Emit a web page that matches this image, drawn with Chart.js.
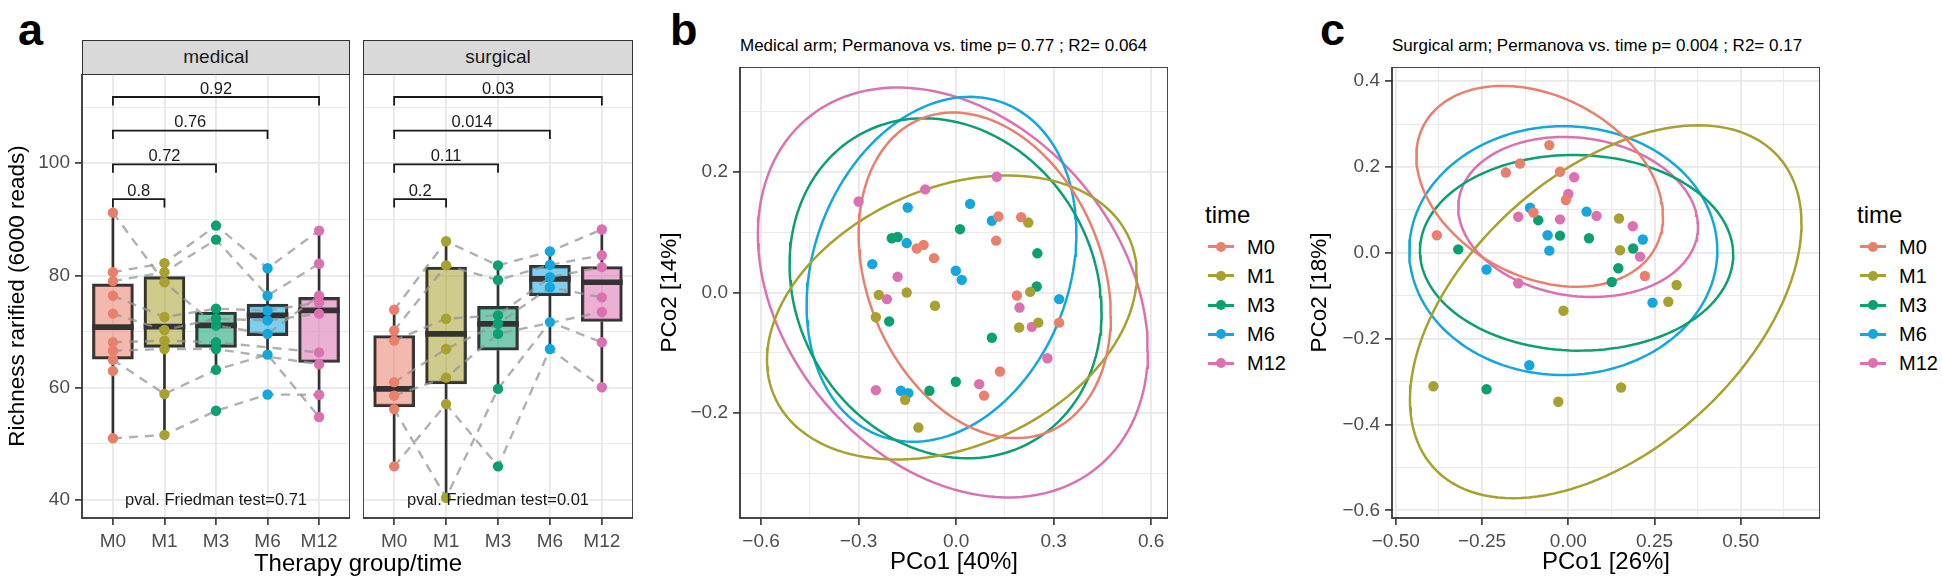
<!DOCTYPE html>
<html>
<head>
<meta charset="utf-8">
<script src="https://cdn.jsdelivr.net/npm/chart.js@4.4.1/dist/chart.umd.min.js"></script>
<style>
  body { margin: 0; background: #fff; font-family: "Liberation Sans", Arial, sans-serif; }
  #page { position: relative; width: 1942px; height: 581px; overflow: hidden; background: #fff; }
  canvas { position: absolute; }
  .lbl { position: absolute; top: 7px; font-weight: bold; font-size: 45px; line-height: 45px; color: #000; }
  .strip { position: absolute; top: 40px; height: 35px; box-sizing: border-box; background: #D9D9D9;
           border: 1.8px solid #333; font-size: 19px; line-height: 32px; text-align: center; color: #1a1a1a; }
  .ptitle { position: absolute; top: 37px; font-size: 17px; line-height: 18px; white-space: nowrap; color: #000; }
  .axt { position: absolute; font-size: 24px; line-height: 24px; white-space: nowrap; transform: translate(-50%, -50%); color: #000; }
  .legtitle { position: absolute; font-size: 24px; line-height: 24px; color: #000; }
  .legrow { position: absolute; height: 20px; }
  .legrow .ln { position: absolute; left: 3px; top: 8.5px; width: 26px; height: 3px; }
  .legrow .dot { position: absolute; left: 11px; top: 5px; width: 10px; height: 10px; border-radius: 50%; }
  .legrow span { position: absolute; left: 42px; top: 0; font-size: 20px; line-height: 20px; color: #000; }
</style>
</head>
<body>
<div id="page">
  <div class="lbl" style="left:18px">a</div>
  <div class="lbl" style="left:670px">b</div>
  <div class="lbl" style="left:1320px">c</div>

  <div class="strip" style="left:82px; width:268px">medical</div>
  <div class="strip" style="left:363px; width:270px">surgical</div>
  <canvas id="medical" width="350" height="476" style="left:0; top:74px"></canvas>
  <canvas id="surgical" width="270" height="476" style="left:363px; top:74px"></canvas>
  <div class="axt" style="left:358px; top:563px">Therapy group/time</div>

  <div class="ptitle" style="left:740px">Medical arm; Permanova vs. time p= 0.77 ; R2= 0.064</div>
  <canvas id="pcoaMed" width="516" height="514" style="left:652px; top:67px"></canvas>

  <div class="ptitle" style="left:1392px">Surgical arm; Permanova vs. time p= 0.004 ; R2= 0.17</div>
  <canvas id="pcoaSur" width="518" height="514" style="left:1302px; top:67px"></canvas>
</div>

<script>
Chart.defaults.font.family = '"Liberation Sans", Arial, sans-serif';
Chart.defaults.color = '#4D4D4D';

const times = ['M0', 'M1', 'M3', 'M6', 'M12'];
const timeColors = ['#E9806E', '#A7A130', '#0C9F72', '#14A7DE', '#DB71B1'];

// ---- panel a: richness, one row per patient (M0, M1, M3, M6, M12) ----
const medSubjects = [
  [91.2, 78.8, 71.1, 69.6, 76.4],
  [51.0, 51.6, 55.9, 58.8, 58.75],
  [65.0, 58.9, 63.2, 65.9, 54.8],
  [80.6, 82.2, 88.9, 81.3, 88.0],
  [79.0, 80.6, 86.4, 76.4, 82.1],
  [76.4, 72.6, 74.1, 73.75, 75.2],
  [73.2, 70.3, 72.3, 72.0, 73.2],
  [68.1, 68.4, 68.1, null, 66.3],
  [66.6, 66.9, 66.9, null, 64.2],
  [63.0, null, null, null, null]
];
const surSubjects = [
  [73.9, 86.1, 81.8, 84.3, 88.2],
  [70.2, 81.8, 79.2, 81.9, 83.6],
  [68.4, 72.3, 72.9, 79.7, 81.5],
  [61.0, 66.9, 71.4, 77.9, 76.1],
  [58.6, 61.8, 69.6, null, 73.5],
  [56.2, 40.4, 59.8, 71.7, 68.1],
  [46.0, 57.1, 46.0, 66.9, 60.1]
];

// box statistics as drawn
const medQ1 = [65.1, 67.2, 67.2, 69.3, 64.5];
const medMed = [70.8, 70.9, 71.1, 72.9, 73.8];
const medQ3 = [78.5, 79.8, 73.5, 74.9, 76.1];
const medLo = [51.0, 51.6, 63.2, 65.7, 54.8];
const medHi = [91.2, 82.2, 74.1, 81.3, 88.0];

const surQ1 = [56.6, 60.7, 66.7, 76.4, 71.8];
const surMed = [59.8, 69.6, 71.4, 79.4, 78.8];
const surQ3 = [69.3, 81.5, 74.5, 81.8, 81.6];
const surLo = [46.0, 40.4, 59.8, 66.9, 60.1];
const surHi = [73.9, 86.1, 81.8, 84.3, 88.2];

// pairwise comparisons vs M0
const bracketFrom = [1, 1, 1, 1];
const bracketTo = [2, 3, 4, 5];
const bracketY = [93.6, 99.8, 105.8, 111.8];
const medPvals = ['0.8', '0.72', '0.76', '0.92'];
const surPvals = ['0.2', '0.11', '0.014', '0.03'];

const richTicks = [40, 50, 60, 70, 80, 90, 100, 110];
const richLabels = ['40', '', '60', '', '80', '', '100', ''];
const catTicks = [1, 2, 3, 4, 5];

// ---- panels b / c: PCoA coordinates per time point ----
const bM0 = [[0.13, 0.126], [0.2, 0.125], [0.123, 0.086], [-0.121, 0.073], [-0.1, 0.079], [-0.068, 0.057], [0.187, -0.005], [0.317, -0.05], [0.135, -0.131], [0.086, -0.171]];
const bM1 = [[0.222, 0.116], [0.228, 0.001], [-0.152, 0.0], [-0.238, -0.004], [-0.065, -0.022], [-0.247, -0.041], [0.194, -0.058], [0.253, -0.05], [-0.157, -0.178], [-0.116, -0.224]];
const bM3 = [[0.012, 0.105], [-0.198, 0.09], [-0.18, 0.092], [0.25, 0.065], [0.248, 0.01], [-0.206, -0.048], [0.11, -0.075], [-0.001, -0.148], [-0.082, -0.163]];
const bM6 = [[-0.149, 0.141], [0.043, 0.147], [0.11, 0.119], [-0.152, 0.082], [-0.258, 0.047], [-0.001, 0.036], [0.0175, 0.021], [0.317, -0.011], [-0.17, -0.163], [-0.147, -0.167]];
const bM12 = [[-0.30, 0.151], [-0.095, 0.171], [0.125, 0.192], [-0.18, 0.026], [-0.213, -0.011], [0.195, -0.025], [0.233, -0.057], [0.281, -0.109], [0.071, -0.152], [-0.247, -0.162]];

const cM0 = [[-0.381, 0.041], [-0.181, 0.187], [-0.140, 0.208], [-0.055, 0.251], [-0.101, 0.094], [-0.024, 0.189], [-0.007, 0.123], [0.222, -0.054]];
const cM1 = [[0.147, 0.080], [0.150, 0.006], [0.314, -0.075], [0.290, -0.114], [-0.014, -0.135], [-0.391, -0.311], [-0.029, -0.347], [0.153, -0.314]];
const cM3 = [[-0.319, 0.008], [-0.087, 0.076], [-0.024, 0.040], [0.060, 0.034], [0.188, 0.010], [0.145, -0.036], [0.126, -0.068], [-0.237, -0.318]];
const cM6 = [[-0.237, -0.039], [-0.111, 0.105], [-0.060, 0.041], [-0.055, 0.005], [0.053, 0.096], [0.216, 0.031], [0.244, -0.116], [-0.113, -0.262]];
const cM12 = [[-0.145, 0.084], [-0.024, 0.078], [0.017, 0.176], [0.0, 0.137], [0.082, 0.086], [0.187, 0.062], [0.208, -0.009], [-0.145, -0.071]];

// confidence ellipses: centre, half width, half height, correlation
const bEllCx = [0.088, -0.013, -0.0325, -0.045, -0.01];
const bEllCy = [0.0285, -0.0415, 0.007, 0.0385, 0.0];
const bEllA = [0.388, 0.569, 0.48, 0.415, 0.60];
const bEllB = [0.27, 0.2355, 0.282, 0.286, 0.34];
const bEllR = [-0.25, 0.3, -0.14, 0.21, -0.283];

const cEllCx = [-0.083, 0.1085, 0.024, -0.0145, 0.0285];
const cEllCy = [0.155, -0.1375, 0.0, 0.005, 0.0835];
const cEllA = [0.3575, 0.5675, 0.454, 0.4465, 0.3475];
const cEllB = [0.234, 0.4345, 0.228, 0.29, 0.1865];
const cEllR = [-0.3, 0.473, -0.02, 0.0, -0.12];

const bXTicks = [-0.6, -0.45, -0.3, -0.15, 0, 0.15, 0.3, 0.45, 0.6];
const bXLabels = ['\u22120.6', '', '\u22120.3', '', '0.0', '', '0.3', '', '0.6'];
const bYTicks = [-0.3, -0.2, -0.1, 0, 0.1, 0.2, 0.3];
const bYLabels = ['', '\u22120.2', '', '0.0', '', '0.2', ''];
const cXTicks = [-0.5, -0.375, -0.25, -0.125, 0, 0.125, 0.25, 0.375, 0.5, 0.625];
const cXLabels = ['\u22120.50', '', '\u22120.25', '', '0.00', '', '0.25', '', '0.50', ''];
const cYTicks = [-0.6, -0.5, -0.4, -0.3, -0.2, -0.1, 0, 0.1, 0.2, 0.3, 0.4];
const cYLabels = ['\u22120.6', '', '\u22120.4', '', '\u22120.2', '', '0.0', '', '0.2', '', '0.4'];

// grey20 frame round the plotting panel
const panelBorder = {
  id: 'panelBorder',
  afterDatasetsDraw(chart) {
    const { ctx, chartArea: a } = chart;
    ctx.save();
    ctx.strokeStyle = '#333';
    ctx.lineWidth = 1.8;
    ctx.strokeRect(a.left, a.top, a.right - a.left, a.bottom - a.top);
    ctx.restore();
  }
};

// p-values above the brackets and the Friedman test line
const facetText = {
  id: 'facetText',
  afterDatasetsDraw(chart, args, opts) {
    const { ctx, scales: { x, y } } = chart;
    ctx.save();
    ctx.font = '16.5px "Liberation Sans", Arial, sans-serif';
    ctx.fillStyle = '#1a1a1a';
    ctx.textAlign = 'center';
    ctx.textBaseline = 'alphabetic';
    opts.labels.forEach((lab, k) => {
      const xm = (bracketFrom[k] + bracketTo[k]) / 2;
      ctx.fillText(lab, x.getPixelForValue(xm), y.getPixelForValue(bracketY[k]) - 3.5);
    });
    ctx.textBaseline = 'middle';
    ctx.fillText(opts.pval, x.getPixelForValue(3), y.getPixelForValue(40));
    ctx.restore();
  }
};

function tickScale(ticks, labels, min, max, size, extra) {
  return Object.assign({
    type: 'linear', min: min, max: max, offset: false,
    afterBuildTicks: s => { s.ticks = ticks.map(v => ({ value: v })); },
    // fixed axis size, and no extra room for half labels at the ends
    afterFit: s => {
      if (s.isHorizontal()) s.height = size; else s.width = size;
      s.paddingTop = 0; s.paddingBottom = 0; s.paddingLeft = 0; s.paddingRight = 0;
    },
    ticks: { callback: (v, i) => labels[i], color: '#4D4D4D', font: { size: 19 }, padding: 5, autoSkip: false, maxRotation: 0 },
    grid: {
      offset: false,
      color: '#E8E8E8',
      lineWidth: c => labels[c.index] ? 1.8 : 0.9,
      tickLength: 7,
      tickWidth: 1.6,
      tickColor: c => labels[c.index] ? '#333' : 'rgba(0,0,0,0)'
    },
    border: { display: false }
  }, extra || {});
}

function facetChart(id, q1, med, q3, lo, hi, subjects, pvals, pval, showY) {
  const datasets = [];
  datasets.push({
    type: 'bar', order: 6, grouped: false, barThickness: 41,
    data: times.map((t, i) => ({ x: i + 1, y: [q1[i], q3[i]] })),
    backgroundColor: timeColors.map(c => c + '8C'),
    borderColor: '#333', borderWidth: 2.7, borderSkipped: false
  });
  datasets.push({
    type: 'bar', order: 5, grouped: false, barThickness: 41,
    data: times.map((t, i) => ({ x: i + 1, y: [med[i] - 0.45, med[i] + 0.45] })),
    backgroundColor: '#333', borderWidth: 0
  });
  const whisk = [];
  times.forEach((t, i) => {
    whisk.push({ x: i + 1, y: hi[i] }, { x: i + 1, y: q3[i] }, { x: i + 1, y: null },
               { x: i + 1, y: q1[i] }, { x: i + 1, y: lo[i] }, { x: i + 1, y: null });
  });
  datasets.push({ order: 4, data: whisk, showLine: true, spanGaps: false, borderColor: '#333', borderWidth: 2.7, pointRadius: 0 });
  subjects.forEach(s => datasets.push({
    order: 3, showLine: true, spanGaps: true, pointRadius: 0,
    borderColor: 'rgba(150,150,150,0.75)', borderWidth: 2.4, borderDash: [9, 7],
    data: s.map((v, i) => ({ x: i + 1, y: v }))
  }));
  const br = [];
  bracketY.forEach((yv, k) => {
    br.push({ x: bracketFrom[k], y: yv - 1.5 }, { x: bracketFrom[k], y: yv }, { x: bracketTo[k], y: yv },
            { x: bracketTo[k], y: yv - 1.5 }, { x: bracketTo[k], y: null });
  });
  datasets.push({ order: 2, data: br, showLine: true, spanGaps: false, borderColor: '#1a1a1a', borderWidth: 1.8, pointRadius: 0 });
  times.forEach((t, i) => datasets.push({
    order: 1, pointRadius: 5.2, pointBackgroundColor: timeColors[i], pointBorderWidth: 0,
    data: subjects.filter(s => s[i] != null).map(s => ({ x: i + 1, y: s[i] }))
  }));

  const yScale = showY
    ? tickScale(richTicks, richLabels, 36.8, 115.9, 82, {
        title: { display: true, text: 'Richness rarified (6000 reads)', color: '#000', font: { size: 22.5 }, padding: { top: 4, bottom: 0 } }
      })
    : tickScale(richTicks, richLabels, 36.8, 115.9, 0);
  if (!showY) {
    yScale.ticks.display = false;
    yScale.grid.drawTicks = false;
  }

  return new Chart(document.getElementById(id), {
    type: 'scatter',
    data: { datasets: datasets },
    options: {
      responsive: false, animation: false, devicePixelRatio: 1,
      layout: { padding: 0, autoPadding: false },
      plugins: { legend: { display: false }, tooltip: { enabled: false }, facetText: { labels: pvals, pval: pval } },
      scales: {
        x: tickScale(catTicks, times, 0.4, 5.6, 32, { grid: {
          offset: false, color: '#E8E8E8', lineWidth: 1.8, tickLength: 7, tickWidth: 1.6, tickColor: '#333' } }),
        y: yScale
      }
    },
    plugins: [panelBorder, facetText]
  });
}

function ellipsePoints(cx, cy, a, b, r) {
  const d = Math.acos(r), pts = [];
  for (let k = 0; k <= 140; k++) {
    const t = k / 140 * 2 * Math.PI;
    pts.push({ x: cx + a * Math.cos(t), y: cy + b * Math.cos(t - d) });
  }
  return pts;
}

function pcoaChart(id, yWidth, groups, ell, xt, xl, xr, yt, yl, yr, xTitle, yTitle) {
  const datasets = [];
  times.forEach((t, i) => datasets.push({
    order: 2, showLine: true, pointRadius: 0, borderColor: timeColors[i], borderWidth: 2.5,
    data: ellipsePoints(ell.cx[i], ell.cy[i], ell.a[i], ell.b[i], ell.r[i])
  }));
  times.forEach((t, i) => datasets.push({
    order: 1, pointRadius: 5.2, pointBackgroundColor: timeColors[i], pointBorderWidth: 0,
    data: groups[i].map(p => ({ x: p[0], y: p[1] }))
  }));
  return new Chart(document.getElementById(id), {
    type: 'scatter',
    data: { datasets: datasets },
    options: {
      responsive: false, animation: false, devicePixelRatio: 1,
      layout: { padding: 0, autoPadding: false },
      plugins: { legend: { display: false }, tooltip: { enabled: false } },
      scales: {
        x: tickScale(xt, xl, xr[0], xr[1], 63, {
          title: { display: true, text: xTitle, color: '#000', font: { size: 24 }, padding: { top: 0, bottom: 4 } } }),
        y: tickScale(yt, yl, yr[0], yr[1], yWidth, {
          title: { display: true, text: yTitle, color: '#000', font: { size: 22.5 }, padding: { top: 4, bottom: 0 } } })
      }
    },
    plugins: [panelBorder]
  });
}

// legend: "time" with line+dot keys
function buildLegend(left) {
  const page = document.getElementById('page');
  const title = document.createElement('div');
  title.className = 'legtitle';
  title.style.left = left + 'px';
  title.style.top = '203px';
  title.textContent = 'time';
  page.appendChild(title);
  times.forEach((t, i) => {
    const row = document.createElement('div');
    row.className = 'legrow';
    row.style.left = left + 'px';
    row.style.top = (236.7 + 29.15 * i) + 'px';
    row.innerHTML = '<div class="ln" style="background:' + timeColors[i] + '"></div>' +
      '<div class="dot" style="background:' + timeColors[i] + '"></div><span>' + t + '</span>';
    page.appendChild(row);
  });
}

facetChart('medical', medQ1, medMed, medQ3, medLo, medHi, medSubjects, medPvals, 'pval. Friedman test=0.71', true);
facetChart('surgical', surQ1, surMed, surQ3, surLo, surHi, surSubjects, surPvals, 'pval. Friedman test=0.01', false);

pcoaChart('pcoaMed', 88, [bM0, bM1, bM3, bM6, bM12],
  { cx: bEllCx, cy: bEllCy, a: bEllA, b: bEllB, r: bEllR },
  bXTicks, bXLabels, [-0.665, 0.652], bYTicks, bYLabels, [-0.374, 0.374], 'PCo1 [40%]', 'PCo2 [14%]');
pcoaChart('pcoaSur', 90, [cM0, cM1, cM3, cM6, cM12],
  { cx: cEllCx, cy: cEllCy, a: cEllA, b: cEllB, r: cEllR },
  cXTicks, cXLabels, [-0.511, 0.7296], cYTicks, cYLabels, [-0.618, 0.433], 'PCo1 [26%]', 'PCo2 [18%]');

buildLegend(1205);
buildLegend(1857);
</script>
</body>
</html>
